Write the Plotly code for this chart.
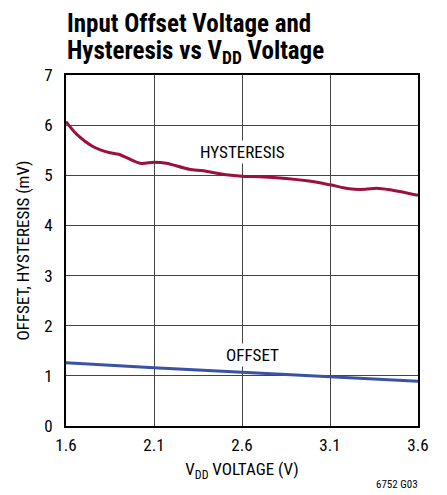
import plotly.graph_objects as go

vdd_hyst = [1.60, 1.66, 1.755, 1.85, 1.90, 2.02, 2.10, 2.17, 2.30, 2.38, 2.51, 2.60, 2.70, 2.97, 3.10, 3.21, 3.30, 3.365, 3.44, 3.60]
hysteresis = [6.07, 5.82, 5.57, 5.45, 5.42, 5.24, 5.26, 5.24, 5.12, 5.09, 5.01, 4.98, 4.97, 4.89, 4.81, 4.73, 4.72, 4.74, 4.71, 4.60]
vdd_off = [1.6, 2.1, 2.6, 3.1, 3.6]
offset = [1.26, 1.16, 1.07, 0.98, 0.89]
x_ticks = [1.6, 2.1, 2.6, 3.1, 3.6]
y_ticks = [0, 1, 2, 3, 4, 5, 6, 7]

FONT = "Liberation Sans Narrow, Arial Narrow, Roboto Condensed, Liberation Sans, sans-serif"

fig = go.Figure()
fig.add_trace(go.Scatter(x=vdd_hyst, y=hysteresis, mode="lines",
                         line=dict(color="#9c0f3e", width=3, shape="spline", smoothing=0.8),
                         showlegend=False))
fig.add_trace(go.Scatter(x=vdd_off, y=offset, mode="lines",
                         line=dict(color="#3a52a6", width=3, shape="spline"),
                         showlegend=False))

fig.update_layout(
    width=439, height=487,
    margin=dict(l=58, r=29, t=67, b=69),
    paper_bgcolor="white", plot_bgcolor="white",
    font=dict(family=FONT, size=17, color="black"),
    xaxis=dict(range=[1.6, 3.6], tickvals=x_ticks, ticktext=[f"{v:.1f}" for v in x_ticks],
               showgrid=True, gridcolor="#444", gridwidth=1, zeroline=False,
               showline=True, linecolor="black", linewidth=2, mirror=True,
               ticks="", ticklabelstandoff=3,
               title=dict(text="V<sub>DD</sub> VOLTAGE (V)", standoff=9, font=dict(size=17))),
    yaxis=dict(range=[0, 7], tickvals=y_ticks, showgrid=True, gridcolor="#444", gridwidth=1,
               zeroline=False, showline=True, linecolor="black", linewidth=2, mirror=True,
               ticks="", ticklabelstandoff=8,
               title=dict(text="OFFSET, HYSTERESIS (mV)", standoff=10, font=dict(size=17))),
    annotations=[
        dict(x=0, y=1, xref="paper", yref="paper", yshift=68, xshift=-1,
             text="<b>Input Offset Voltage and</b>", showarrow=False,
             font=dict(size=25), xanchor="left", yanchor="top"),
        dict(x=0, y=1, xref="paper", yref="paper", yshift=41, xshift=-1,
             text="<b>Hysteresis vs V<sub>DD</sub> Voltage</b>", showarrow=False,
             font=dict(size=25), xanchor="left", yanchor="top"),
        dict(x=2.6, y=5.46, xref="x", yref="y", text="HYSTERESIS", showarrow=False,
             font=dict(size=17), bgcolor="white", xanchor="center"),
        dict(x=2.66, y=1.42, xref="x", yref="y", text="OFFSET", showarrow=False,
             font=dict(size=17), bgcolor="white", xanchor="center"),
        dict(x=1.0, y=0, xref="paper", yref="paper", yshift=-67, xshift=2, text="6752 G03",
             showarrow=False, font=dict(size=11), xanchor="right", yanchor="bottom"),
    ],
)

fig.write_html("out.html")
